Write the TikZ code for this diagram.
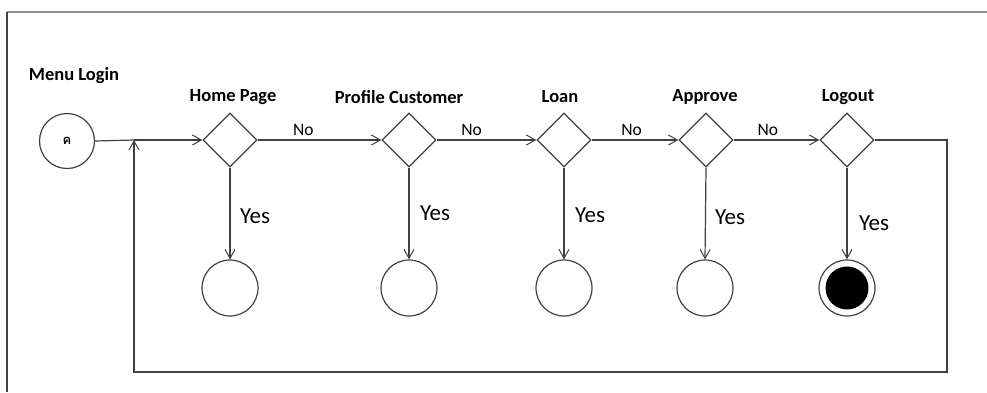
\documentclass[tikz,border=0pt]{standalone}
\usepackage{fontspec}
\setmainfont{Carlito}
\newfontfamily\thaifont[Script=Thai]{Loma}
\usetikzlibrary{shapes.geometric,arrows.meta}
\definecolor{ln}{HTML}{404040}
\tikzset{
  dec/.style={diamond,draw=ln,line width=1.2pt,minimum width=54pt,minimum height=54pt,inner sep=0pt,aspect=1},
  endc/.style={circle,draw=ln,line width=1.2pt,minimum size=56pt,inner sep=0pt},
  ttl/.style={font=\bfseries\fontsize{18.5}{20}\selectfont,text=black},
  nolbl/.style={font=\fontsize{17.5}{19}\selectfont,text=black},
  yeslbl/.style={font=\fontsize{23}{25}\selectfont,text=black},
  flow/.style={draw=ln,line width=1.2pt,-{Straight Barb[length=9pt,width=10pt,line width=1pt]}},
  plain/.style={draw=ln,line width=1.2pt}
}
\begin{document}
\begin{tikzpicture}[x=1pt,y=-1pt]
\useasboundingbox (0,0) rectangle (987,392);
% frame
\draw[draw=gray!90,line width=2pt] (7,12) -- (987,12);
\draw[draw=ln,line width=1.6pt] (7,12) -- (7,392);
% start
\node[circle,draw=ln,line width=1.2pt,minimum size=55pt,inner sep=0pt] (start) at (67,141) {\thaifont\bfseries\fontsize{13}{14}\selectfont ค};
\node[font=\bfseries\fontsize{18.5}{20}\selectfont] (ml) at (74,76) {Menu Login};
% decisions
\node[dec] (d1) at (230,140) {};
\node[dec] (d2) at (409,140) {};
\node[dec] (d3) at (564,140) {};
\node[dec] (d4) at (706,140) {};
\node[dec] (d5) at (847,140) {};
% titles
\node[ttl] (t1) at (233,97) {Home Page};
\node[ttl] (t2) at (399,97) {Profile Customer};
\node[ttl] (t3) at (560,97) {Loan};
\node[ttl] (t4) at (705,97) {Approve};
\node[ttl] (t5) at (848,97) {Logout};
% end circles
\node[endc] (c1) at (230,288) {};
\node[endc] (c2) at (409,288) {};
\node[endc] (c3) at (564,288) {};
\node[endc] (c4) at (705,288) {};
\node[endc] (c5) at (847,288) {};
\node[circle,fill=black,minimum size=43pt,inner sep=0pt] (c5in) at (847,288) {};
% horizontal flow
\coordinate (j) at (134,140);
\draw[plain] (start.east) -- (j);
\draw[flow] (j) -- (d1.west);
\draw[flow] (d1.east) -- node[nolbl,above=0pt,pos=0.37] (n1) {No} (d2.west);
\draw[flow] (d2.east) -- node[nolbl,above=0pt,pos=0.35] (n2) {No} (d3.west);
\draw[flow] (d3.east) -- node[nolbl,above=0pt,pos=0.46] (n3) {No} (d4.west);
\draw[flow] (d4.east) -- node[nolbl,above=0pt,pos=0.4] (n4) {No} (d5.west);
% yes arrows
\draw[flow] (d1.south) -- (c1.north);
\draw[flow] (d2.south) -- (c2.north);
\draw[flow] (d3.south) -- (c3.north);
\draw[flow] (d4.south) -- (c4.north);
\draw[flow] (d5.south) -- (c5.north);
\node[yeslbl] (y1) at (255,216) {Yes};
\node[yeslbl] (y2) at (435,213) {Yes};
\node[yeslbl] (y3) at (590,215) {Yes};
\node[yeslbl] (y4) at (730,217) {Yes};
\node[yeslbl] (y5) at (874,223) {Yes};
% loop back
\coordinate (l1) at (947,140);
\coordinate (l2) at (947,372);
\coordinate (l3) at (134,372);
\draw[flow] (d5.east) -- (l1) -- (l2) -- (l3) -- (j);
\end{tikzpicture}
\end{document}
